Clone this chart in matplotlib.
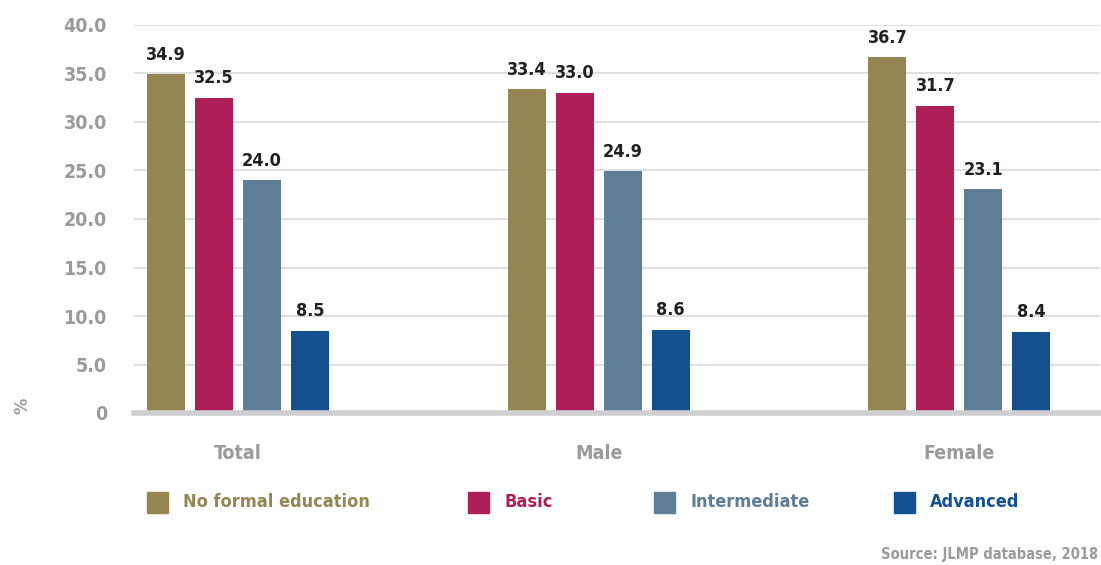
import matplotlib
matplotlib.use("Agg")
import matplotlib.pyplot as plt
import matplotlib.patches as mpatches
import numpy as np

groups = ["Total", "Male", "Female"]
series = ["No formal education", "Basic", "Intermediate", "Advanced"]
no_formal = [34.9, 33.4, 36.7]
basic = [32.5, 33.0, 31.7]
intermediate = [24.0, 24.9, 23.1]
advanced = [8.5, 8.6, 8.4]
yticks = [0, 5, 10, 15, 20, 25, 30, 35, 40]
ytick_labels = ["0", "5.0", "10.0", "15.0", "20.0", "25.0", "30.0", "35.0", "40.0"]
colors = ["#948553", "#AE1E58", "#5E7D97", "#12508F"]

FONT = ["DejaVu Sans"]
plt.rcParams["font.family"] = FONT
plt.rcParams["font.stretch"] = "condensed"

W, H = 1101, 565
fig = plt.figure(figsize=(W/100, H/100), dpi=100)
ax = fig.add_axes([134/W, (H-413)/H, (1100-134)/W, (413-25)/H])

x = np.arange(len(groups))
width = 0.105
step = 0.133
values = [no_formal, basic, intermediate, advanced]
for i, (vals, col) in enumerate(zip(values, colors)):
    pos = x + (i - 1.5) * step
    bars = ax.bar(pos, vals, width=width, color=col, zorder=3, label=series[i])
    for b, v in zip(bars, vals):
        ax.annotate(f"{v:.1f}", (b.get_x() + b.get_width()/2, v),
                    xytext=(0, 7.5), textcoords="offset points",
                    ha="center", va="bottom", fontsize=13, fontweight="bold",
                    fontstretch="condensed", color="#231F20")

ax.set_xlim(-0.288, 2.39)
ax.set_ylim(0, 40)
ax.set_yticks(yticks)
ax.set_yticklabels(ytick_labels)
ax.set_xticks(x)
ax.set_xticklabels(groups)
ax.tick_params(axis="y", length=0, pad=19.5, labelsize=14, labelcolor="#9A9A9C")
ax.tick_params(axis="x", length=0, pad=22, labelsize=14, labelcolor="#9A9A9C")
for lab in ax.get_yticklabels() + ax.get_xticklabels():
    lab.set_fontweight("bold")
    lab.set_fontstretch("condensed")
ax.grid(axis="y", color="#D9D9D9", linewidth=1.2, zorder=0)
for s in ["top", "right", "left"]:
    ax.spines[s].set_visible(False)
ax.spines["bottom"].set_color("#CFCFD1")
ax.spines["bottom"].set_linewidth(4)
ax.spines["bottom"].set_zorder(4)

fig.text(22/W, 1 - 406/H, "%", rotation=90, ha="center", va="center",
         fontsize=13, fontweight="bold", fontstretch="condensed", color="#9A9A9C")

# legend (manual placement to match reference column positions)
legend_x = [147, 468, 654, 894]
sq = 21
ly = 502
for lx, name, col in zip(legend_x, series, colors):
    fig.patches.append(mpatches.Rectangle((lx/W, 1 - (ly + sq/2)/H), sq/W, sq/H,
                                          transform=fig.transFigure, color=col,
                                          figure=fig))
    fig.text((lx + 36)/W, 1 - ly/H, name, ha="left", va="center",
             fontsize=13, fontweight="bold", fontstretch="condensed", color=col)

fig.text(1098/W, 1 - 555/H, "Source: JLMP database, 2018", ha="right",
         va="center", fontsize=10.5, fontweight="bold", fontstretch="condensed",
         color="#9A9A9C")

fig.savefig("out.png", dpi=100)
